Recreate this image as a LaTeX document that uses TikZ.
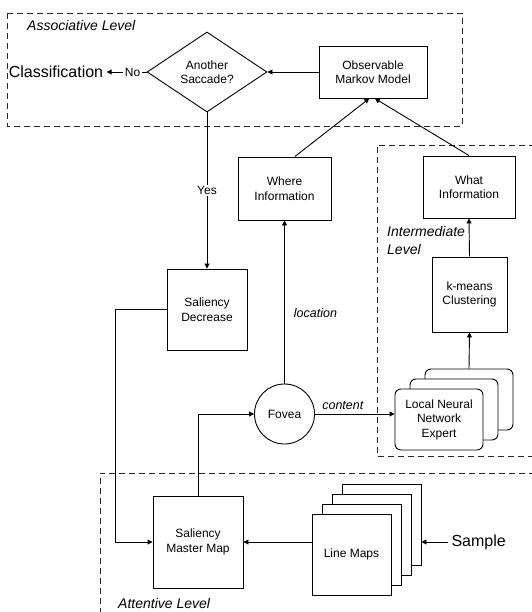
\documentclass[tikz,border=0pt]{standalone}
\usepackage{fontspec}
\setmainfont{Liberation Sans}
\usepackage{tikz}
\usetikzlibrary{shapes.geometric, arrows.meta, calc}
\tikzset{
  %% ---- boxes ----
  blk/.style     = {rectangle, draw=black, line width=0.9pt,
                    fill=white, align=center, inner sep=2pt,
                    font=\fontsize{12}{14.5}\selectfont},
  stackbox/.style= {blk, rounded corners=6pt},
  decide/.style  = {diamond, draw=black, line width=0.9pt,
                    fill=white, align=center, inner sep=0pt,
                    minimum width=120pt, minimum height=80pt,
                    font=\fontsize{12}{14.5}\selectfont},
  eye/.style     = {circle, draw=black, line width=0.9pt,
                    fill=white, minimum size=60pt, inner sep=0pt,
                    font=\fontsize{12}{14.5}\selectfont},
  iotext/.style  = {font=\fontsize{16}{19}\selectfont},
  %% ---- levels ----
  lvltext/.style = {anchor=west, inner sep=0pt, align=left,
                    font=\fontsize{14}{18}\selectfont\itshape},
  lvlframe/.style= {line width=0.9pt, draw=black!85,
                    dash pattern=on 6pt off 4pt},
  %% ---- arrows ----
  arrow/.style   = {-{Triangle[length=5pt,width=5pt]}, line width=0.9pt},
  lbl/.style     = {fill=white, inner sep=1.5pt,
                    font=\fontsize{12}{14}\selectfont},
  edgelbl/.style = {inner sep=0pt, font=\fontsize{12.5}{14}\selectfont\itshape},
}

\begin{document}
\begin{tikzpicture}[x=1pt, y=-1pt]
  \useasboundingbox (0,0) rectangle (531,612);

  %% Level frames
  \draw[lvlframe] (7,13) rectangle (462,126);
  \draw[lvlframe] (535,145) -- (377,145) -- (377,456) -- (535,456);
  \draw[lvlframe] (535,473) -- (100,473) -- (100,615);
  \node[lvltext] (assoc) at (27,25) {Associative Level};
  \node[lvltext] (inter) at (387,240) {Intermediate\\Level};
  \node[lvltext] (atten) at (118,603) {Attentive Level};

  %% Associative level
  \node[decide] (dia) at (207,72) {Another\\Saccade?};
  \node[blk, minimum width=108pt, minimum height=52pt] (omm) at (373,72)
    {Observable\\Markov Model};
  \node[iotext] (cls) at (56,72) {Classification};

  %% Where / what
  \node[blk, minimum width=93pt, minimum height=63pt] (where) at (284.5,188.5)
    {Where\\Information};
  \node[blk, minimum width=92pt, minimum height=62pt] (what) at (469,187)
    {What\\Information};
  \node[blk, minimum width=75pt, minimum height=75pt] (kmeans) at (469.5,294.5)
    {k-means\\Clustering};

  %% Local experts (stacked)
  \node[stackbox, minimum width=88pt, minimum height=61pt] (lnne3) at (469,399.5) {};
  \node[stackbox, minimum width=88pt, minimum height=61pt] (lnne2) at (454,409.5) {};
  \node[stackbox, minimum width=88pt, minimum height=61pt] (lnne1) at (439,419.5)
    {Local Neural\\Network\\Expert};

  %% Saliency decrease and fovea
  \node[blk, minimum width=80pt, minimum height=81pt] (sd) at (207,309.5)
    {Saliency\\Decrease};
  \node[eye] (fovea) at (284.5,414) {Fovea};

  %% Attentive level
  \node[blk, minimum width=90pt, minimum height=92pt] (smm) at (198,542)
    {Saliency\\Master Map};
  \node[blk, minimum width=79pt, minimum height=81pt] (lm4) at (381.5,524.5) {};
  \node[blk, minimum width=79pt, minimum height=81pt] (lm3) at (371.5,534.5) {};
  \node[blk, minimum width=79pt, minimum height=81pt] (lm2) at (361.5,544.5) {};
  \node[blk, minimum width=79pt, minimum height=81pt] (lm1) at (351.5,554.5)
    {Line Maps};
  \node[iotext, anchor=west] (sample) at (448,542) {Sample};

  %% Connectors
  \draw[arrow] (omm.west) -- (dia.east);
  \draw[arrow] (dia.west) -- (cls.east) node[lbl, pos=0.35] {No};
  \draw[arrow] (dia.south) -- (sd.north) node[lbl, midway] {Yes};
  \draw[arrow] (where.72) -- (omm.262);
  \draw[arrow] (what.north) -- (omm.274);
  \draw[arrow] (kmeans.north) -- (what.south);
  \draw[arrow] (lnne3.north) -- (kmeans.south);
  \draw[arrow] (fovea.north) -- (where.south)
    node[edgelbl, pos=0.43, anchor=west, xshift=9pt] {location};
  \draw[arrow] (fovea.east) -- (fovea.east -| lnne1.west)
    node[edgelbl, pos=0.35, anchor=south, yshift=4pt] {content};
  \draw[arrow] (smm.north) |- (fovea.west);
  \draw[arrow] (sd.west) -- ($(sd.west)-(51,0)$) |- (smm.west);
  \draw[arrow] (lm1.west |- smm) -- (smm.east);
  \draw[arrow] (sample.west) -- (sample.west -| lm4.east);

\end{tikzpicture}
\end{document}
